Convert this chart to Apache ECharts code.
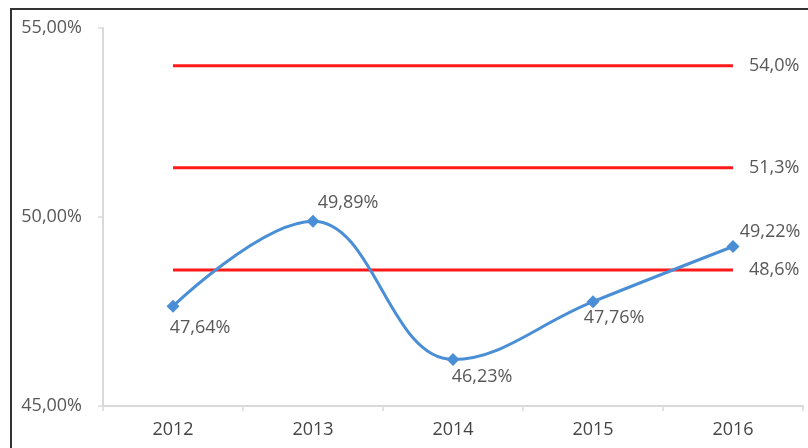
<!DOCTYPE html>
<html>
<head>
<meta charset="utf-8">
<script src="https://cdn.jsdelivr.net/npm/echarts@6/dist/echarts.min.js"></script>
<style>html,body{margin:0;padding:0;background:#fff;}#c{width:808px;height:448px;}</style>
</head>
<body>
<div id="c"></div>
<script>
var categories = ['2012', '2013', '2014', '2015', '2016'];
var values = [47.64, 49.89, 46.23, 47.76, 49.22];
var refLevels = [54.0, 51.3, 48.6];
var yTicks = [45, 50, 55];

var labelOffsets = [[27, 22], [35, -18], [29, 17], [21, 16], [37, -15]];

function fmt(v, d) { return v.toFixed(d).replace('.', ',') + '%'; }

var FONT = 'Open Sans';
var TXT = '#585858';
var series = [];
refLevels.forEach(function (lv) {
  series.push({
    type: 'line',
    data: categories.map(function () { return lv; }),
    symbol: 'none',
    lineStyle: { color: '#ff1a1a', width: 3 },
    endLabel: {
      show: true, distance: 16,
      formatter: fmt(lv, 1), color: TXT, fontSize: 18, fontFamily: FONT
    },
    silent: true,
    z: 2
  });
});
series.push({
  type: 'line',
  data: values.map(function (v, i) {
    return {
      value: v,
      label: {
        show: true, position: 'inside', offset: labelOffsets[i],
        formatter: fmt(v, 2), color: TXT, fontSize: 18, fontFamily: FONT
      }
    };
  }),
  smooth: 0.4,
  symbol: 'diamond',
  symbolSize: 13,
  itemStyle: { color: '#4a8fd6' },
  lineStyle: { color: '#4a8fd6', width: 3 },
  z: 3
});

var chart = echarts.init(document.getElementById('c'), null, { renderer: 'canvas' });
chart.setOption({
  animation: false,
  backgroundColor: '#fff',
  grid: { left: 103, right: 5, top: 28, bottom: 42 },
  xAxis: {
    type: 'category',
    data: categories,
    boundaryGap: true,
    axisLine: { lineStyle: { color: '#d9d9d9', width: 2 } },
    axisTick: { show: true, length: 5, lineStyle: { color: '#d9d9d9', width: 1.5 } },
    axisLabel: { color: '#444', fontSize: 18, fontFamily: FONT, margin: 15 },
    splitLine: { show: false }
  },
  yAxis: {
    type: 'value',
    min: 45, max: 55, interval: 5,
    axisLine: { show: true, lineStyle: { color: '#d9d9d9', width: 2 } },
    axisTick: { show: true, length: 5, lineStyle: { color: '#d9d9d9', width: 1.5 } },
    axisLabel: {
      color: TXT, fontSize: 18, fontFamily: FONT, margin: 21, padding: [4, 0, 0, 0],
      formatter: function (v) { return yTicks.indexOf(v) >= 0 ? fmt(v, 2) : ''; }
    },
    splitLine: { show: false }
  },
  graphic: [{
    type: 'rect',
    shape: { x: 11, y: 9, width: 830, height: 470 },
    style: { fill: 'none', stroke: '#333', lineWidth: 2 },
    silent: true, z: 100
  }],
  series: series
});
</script>
</body>
</html>
